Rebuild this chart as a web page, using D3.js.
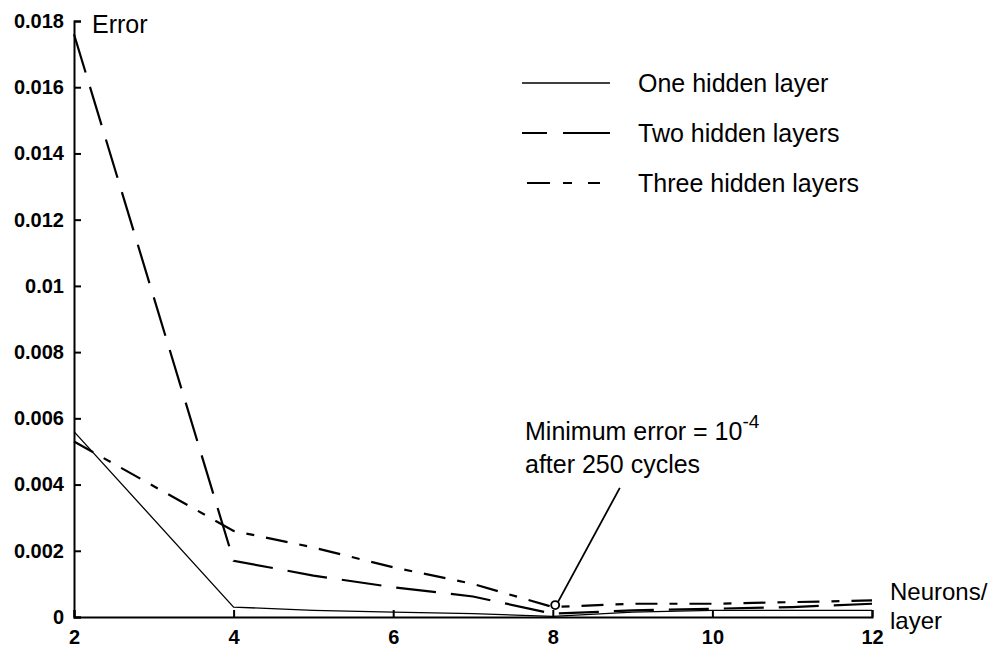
<!DOCTYPE html>
<html>
<head>
<meta charset="utf-8">
<script src="https://cdn.jsdelivr.net/npm/d3@7"></script>
<style>
  html, body { margin: 0; padding: 0; background: #fff; }
  svg { display: block; font-family: "Liberation Sans", Arial, sans-serif; }
</style>
</head>
<body>
<div id="chart"></div>
<script>
// neurons per layer
const neurons = [2, 4, 5, 6, 7, 8, 9, 10, 11, 12];

// error values
const oneHidden   = [0.0056, 0.0003, 0.0002, 0.00015, 0.0001, 0.00002, 0.00015, 0.0002, 0.0002, 0.0002];
const twoHidden   = [0.0176, 0.0017, 0.00125, 0.0009, 0.00062, 0.0001, 0.0002, 0.00025, 0.0003, 0.0004];
const threeHidden = [0.0053, 0.0026, 0.0021, 0.0015, 0.001, 0.0003, 0.0004, 0.0004, 0.00045, 0.0005];

const seriesNames = ['One hidden layer', 'Two hidden layers', 'Three hidden layers'];

const xTicks = [2, 4, 6, 8, 10, 12];
const yTicks = [0, 0.002, 0.004, 0.006, 0.008, 0.01, 0.012, 0.014, 0.016, 0.018];
const yTickLabels = ['0', '0.002', '0.004', '0.006', '0.008', '0.01', '0.012', '0.014', '0.016', '0.018'];

// annotation: arrow from text to the minimum at 8 neurons
const noteFrom = [8.84, 0.0039];
const noteTo = [8.03, 0.0003];

const width = 1000, height = 652;
const labelSize = 25;

const svg = d3.select('#chart').append('svg')
  .attr('width', width)
  .attr('height', height);

const x = d3.scaleLinear().domain([2, 12]).range([74, 872]);
const y = d3.scaleLinear().domain([0, 0.018]).range([617, 21]);

// Y axis (ticks point inwards)
const yAxis = svg.append('g')
  .attr('transform', `translate(${x(2)},0)`)
  .call(d3.axisLeft(y)
    .tickValues(yTicks)
    .tickSizeInner(-7)
    .tickSizeOuter(-7)
    .tickPadding(10)
    .tickFormat((d, i) => yTickLabels[i]));
yAxis.select('.domain').attr('stroke-width', 2);
yAxis.selectAll('.tick line').attr('stroke-width', 2);
yAxis.selectAll('.tick text')
  .attr('font-size', 20)
  .attr('font-weight', 'bold')
  .attr('font-family', '"Liberation Sans", Arial, sans-serif');

// X axis
const xAxis = svg.append('g')
  .attr('transform', `translate(0,${y(0)})`)
  .call(d3.axisBottom(x)
    .tickValues(xTicks)
    .tickSizeInner(-7)
    .tickSizeOuter(-7)
    .tickPadding(13)
    .tickFormat(d3.format('d')));
xAxis.select('.domain').attr('stroke-width', 2);
xAxis.selectAll('.tick line').attr('stroke-width', 2);
xAxis.selectAll('.tick text')
  .attr('font-size', 20)
  .attr('font-weight', 'bold')
  .attr('font-family', '"Liberation Sans", Arial, sans-serif');

// axis titles
svg.append('text')
  .attr('x', x(2) + 18).attr('y', y(0.018) + 12)
  .attr('font-size', labelSize)
  .text('Error');

svg.append('text')
  .attr('x', x(12) + 18).attr('y', y(0) - 17)
  .attr('font-size', labelSize - 1)
  .text('Neurons/');
svg.append('text')
  .attr('x', x(12) + 18).attr('y', y(0) + 12)
  .attr('font-size', labelSize - 1)
  .text('layer');

// lines
const styles = [
  { data: oneHidden,   width: 1.3, dash: null },
  { data: twoHidden,   width: 2.2, dash: '40,15' },
  { data: threeHidden, width: 2.2, dash: '22,12,8,12' }
];

const line = d3.line()
  .x((d, i) => x(neurons[i]))
  .y(d => y(d));

styles.forEach(s => {
  svg.append('path')
    .datum(s.data)
    .attr('fill', 'none')
    .attr('stroke', '#000')
    .attr('stroke-width', s.width)
    .attr('stroke-dasharray', s.dash)
    .attr('d', line);
});

// legend
const legend = svg.append('g').attr('transform', 'translate(522,83)');
seriesNames.forEach((name, i) => {
  const g = legend.append('g').attr('transform', `translate(0,${i * 50})`);
  g.append('line')
    .attr('x1', i === 2 ? 5 : 0).attr('x2', 88)
    .attr('stroke', '#000')
    .attr('stroke-width', styles[i].width)
    .attr('stroke-dasharray', i === 0 ? null : (i === 1 ? '25,16,47' : '23,13,9,16,12'));
  g.append('text')
    .attr('x', 116)
    .attr('dy', '0.35em')
    .attr('font-size', labelSize)
    .text(name);
});

// annotation
svg.append('line')
  .attr('x1', x(noteFrom[0])).attr('y1', y(noteFrom[1]))
  .attr('x2', x(noteTo[0])).attr('y2', y(noteTo[1]))
  .attr('stroke', '#000')
  .attr('stroke-width', 1.8);

svg.append('circle')
  .attr('cx', x(noteTo[0])).attr('cy', y(noteTo[1]) - 2)
  .attr('r', 4)
  .attr('fill', '#fff')
  .attr('stroke', '#000')
  .attr('stroke-width', 1.8);

const note = svg.append('text')
  .attr('x', 525).attr('y', 440)
  .attr('font-size', labelSize);
note.append('tspan').text('Minimum error = 10');
note.append('tspan').attr('dy', -12).attr('font-size', 19).text('-4');

svg.append('text')
  .attr('x', 525).attr('y', 473)
  .attr('font-size', labelSize)
  .text('after 250 cycles');
</script>
</body>
</html>
